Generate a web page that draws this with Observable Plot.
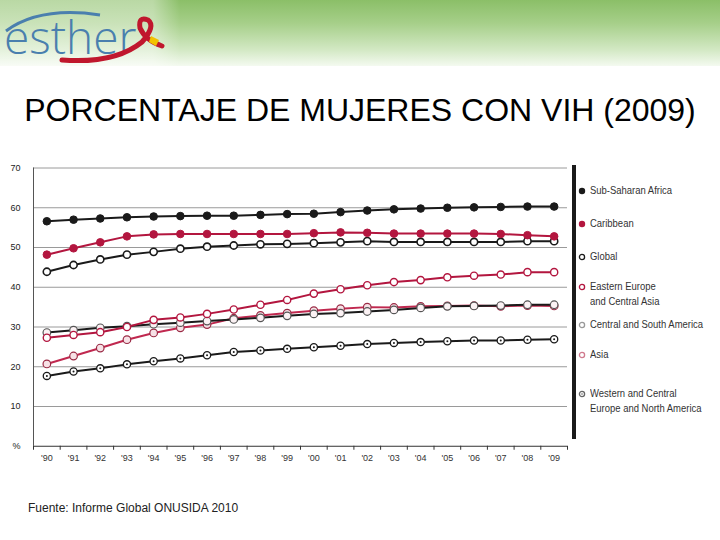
<!DOCTYPE html>
<html><head><meta charset="utf-8">
<script src="https://cdn.jsdelivr.net/npm/d3@7"></script>
<script src="https://cdn.jsdelivr.net/npm/@observablehq/plot@0.6"></script>
<style>
html,body{margin:0;padding:0;background:#fff;}
#page{position:relative;width:720px;height:540px;overflow:hidden;background:#fff;font-family:"Liberation Sans",Arial,sans-serif;}
#band{position:absolute;left:0;top:0;width:720px;height:66px;background:linear-gradient(to bottom,#8bbf68 0%,#a6cf89 35%,#d2e8c3 75%,#f4faf0 100%);}
#logobox{position:absolute;left:0;top:0;width:180px;height:66px;background:linear-gradient(to right,rgba(255,255,255,0.4) 0%,rgba(255,255,255,0.4) 85%,rgba(255,255,255,0) 100%);}
#logo{position:absolute;left:0;top:0;overflow:visible;}
#title{position:absolute;left:0;top:94px;width:720px;text-align:center;font-size:32px;line-height:32px;color:#000;white-space:nowrap;}
#chart{position:absolute;left:0;top:155px;}
#bar{position:absolute;left:572px;top:165px;width:4px;height:274px;background:#1a1a1a;}
#legend{position:absolute;left:578px;top:0;width:142px;font-family:"Liberation Sans",Arial,sans-serif;font-size:11px;color:#333;}
.item{position:absolute;left:0;width:142px;line-height:15px;white-space:nowrap;}
.item svg{position:absolute;left:0;top:4px;}
.item span{position:absolute;left:12px;top:0;transform:scaleX(0.86);transform-origin:0 0;}
#caption{position:absolute;left:28px;top:502px;font-size:12px;line-height:12px;color:#222;}
</style>
</head><body>
<div id="page">
  <div id="band"></div>
  <div id="logobox"></div>
  <svg id="logo" width="200" height="66">
    <path d="M6,31 Q40,6 100,15" stroke="#4a7fae" stroke-width="3" fill="none"/>
    <text x="4" y="54" font-family="'Open Sans',Lato,sans-serif" font-weight="300" font-size="46" fill="#4a7fae">esther</text>
    <path d="M62,60 Q115,64 142,42 Q156,26 148,20 Q138,16 140,28 Q145,40 162,46" stroke="#c0172d" stroke-width="5" fill="none" stroke-linecap="round"/>
    <path d="M151,36 L159,40 L156,46 L149,42 Z" fill="#f2c200"/>
  </svg>
  <div id="title">PORCENTAJE DE MUJERES CON VIH (2009)</div>
  <div id="chart"></div>
  <div id="bar"></div>
  <div id="legend"></div>
  <div id="caption">Fuente: Informe Global ONUSIDA 2010</div>
</div>
<script>
// ---- data ----
const years = [1990,1991,1992,1993,1994,1995,1996,1997,1998,1999,2000,2001,2002,2003,2004,2005,2006,2007,2008,2009];
const yearLabels = ["'90","'91","'92","'93","'94","'95","'96","'97","'98","'99","'00","'01","'02","'03","'04","'05","'06","'07","'08","'09"];
const yTicks = [0,10,20,30,40,50,60,70];
const seriesNames = ["Sub-Saharan Africa","Caribbean","Global","Eastern Europe and Central Asia","Central and South America","Asia","Western and Central Europe and North America"];
const legendLines = [["Sub-Saharan Africa"],["Caribbean"],["Global"],["Eastern Europe","and Central Asia"],["Central and South America"],["Asia"],["Western and Central","Europe and North America"]];
const subSaharanAfrica = [56.6,57.0,57.3,57.6,57.8,57.9,58.0,58.0,58.2,58.4,58.5,58.9,59.3,59.6,59.8,60.0,60.1,60.2,60.3,60.3];
const caribbean        = [48.2,49.8,51.3,52.8,53.3,53.4,53.4,53.4,53.4,53.4,53.6,53.8,53.7,53.5,53.5,53.5,53.5,53.4,53.1,52.8];
const global           = [43.9,45.6,47.0,48.2,48.9,49.7,50.2,50.5,50.8,50.9,51.1,51.3,51.6,51.4,51.4,51.4,51.4,51.4,51.6,51.6];
const easternEurope    = [27.3,28.0,28.7,30.0,31.8,32.4,33.3,34.4,35.6,36.8,38.4,39.5,40.5,41.3,41.8,42.5,42.9,43.2,43.8,43.8];
const centralSouthAm   = [28.6,29.2,29.8,30.2,30.7,31.1,31.5,31.9,32.3,32.8,33.3,33.5,33.9,34.3,34.8,35.2,35.3,35.4,35.6,35.6];
const asia             = [20.7,22.7,24.7,26.8,28.5,29.8,30.6,32.2,32.9,33.5,34.1,34.6,35.0,34.9,35.2,35.3,35.4,35.2,35.4,35.3];
const westernEuropeNA  = [17.7,18.8,19.6,20.6,21.4,22.1,22.9,23.7,24.1,24.5,24.9,25.3,25.7,26.0,26.2,26.4,26.6,26.6,26.8,26.9];
const seriesValues = [subSaharanAfrica,caribbean,global,easternEurope,centralSouthAm,asia,westernEuropeNA];

// ---- styles ----
const CRIM = "#b3163f";
const styles = {
  "Sub-Saharan Africa": {line:"#1a1a1a", fill:"#1a1a1a", stroke:"#1a1a1a", r:3.8, sw:1, lfill:"#1a1a1a", lstroke:"#1a1a1a"},
  "Caribbean": {line:CRIM, fill:CRIM, stroke:CRIM, r:3.8, sw:1, lfill:CRIM, lstroke:CRIM},
  "Global": {line:"#1a1a1a", fill:"#fff", stroke:"#1a1a1a", r:3.6, sw:1.6, lfill:"#fff", lstroke:"#1a1a1a"},
  "Eastern Europe and Central Asia": {line:CRIM, fill:"#fff", stroke:CRIM, r:3.6, sw:1.4, lfill:"#fff", lstroke:CRIM},
  "Central and South America": {line:"#1a1a1a", fill:"#fbf2f4", stroke:"#555", r:3.8, sw:1.2, lfill:"#fff", lstroke:"#999"},
  "Asia": {line:"#c0284f", fill:"#f7e1e6", stroke:"#9a2a45", r:3.8, sw:1.2, lfill:"#fff", lstroke:"#d07a8e"},
  "Western and Central Europe and North America": {line:"#1a1a1a", fill:"#fff", stroke:"#1a1a1a", r:3.6, sw:1.3, lfill:"#fff", lstroke:"#666", center:true}
};

const rows = [];
seriesNames.forEach((s, k) => years.forEach((yr, i) => rows.push({series: s, year: yr, value: seriesValues[k][i]})));
const bounds = d3.range(years.length + 1).map(i => years[0] - 0.5 + i);

const marks = [
  Plot.gridY(yTicks.filter(d => d > 0), {stroke: "#9a9a9a", strokeOpacity: 1, strokeWidth: 1}),
  Plot.ruleX([bounds[0]], {y1: 0, y2: 70, stroke: "#555"}),
  Plot.ruleY([0], {stroke: "#333"}),
  Plot.axisY({ticks: yTicks, tickSize: 0, tickPadding: 13, tickFormat: d => d === 0 ? "%" : d, label: null, fill: "#222"}),
  Plot.axisX({ticks: bounds, tickSize: 4, tickFormat: () => "", label: null, stroke: "#333"}),
  Plot.axisX({ticks: years, tickSize: 0, tickPadding: 8, tickFormat: d => yearLabels[years.indexOf(d)], label: null, fill: "#333"})
];
[...seriesNames].reverse().forEach(s => {
  const st = styles[s];
  const data = rows.filter(d => d.series === s);
  marks.push(Plot.line(data, {x: "year", y: "value", stroke: st.line, strokeWidth: 2}));
  marks.push(Plot.dot(data, {x: "year", y: "value", r: st.r, fill: st.fill, stroke: st.stroke, strokeWidth: st.sw}));
  if (st.center) marks.push(Plot.dot(data, {x: "year", y: "value", r: 1, fill: "#1a1a1a"}));
});

const chart = Plot.plot({
  width: 720, height: 320,
  marginLeft: 33, marginRight: 153, marginTop: 12.5, marginBottom: 29.25,
  x: {domain: [bounds[0], bounds[bounds.length - 1]], label: null},
  y: {domain: [0, 70], label: null},
  style: {fontFamily: "'Liberation Sans', Arial, sans-serif", fontSize: "9px", background: "transparent", overflow: "visible"},
  marks
});
document.getElementById("chart").appendChild(chart);

// ---- legend ----
const legendTops = [183, 216, 249, 279, 317, 347, 386];
const legend = document.getElementById("legend");
seriesNames.forEach((s, k) => {
  const st = styles[s];
  const div = document.createElement("div");
  div.className = "item";
  div.style.top = legendTops[k] + "px";
  const r = st.fill === st.stroke ? 3.2 : 2.6;
  div.innerHTML = `<svg width="10" height="8"><circle cx="4" cy="4" r="${r}" fill="${st.lfill}" stroke="${st.lstroke}" stroke-width="${st.fill===st.stroke?0:1.3}"/>${st.center ? '<circle cx="4" cy="4" r="0.8" fill="#666"/>' : ''}</svg><span>${legendLines[k].join("<br>")}</span>`;
  legend.appendChild(div);
});
</script>
</body></html>
